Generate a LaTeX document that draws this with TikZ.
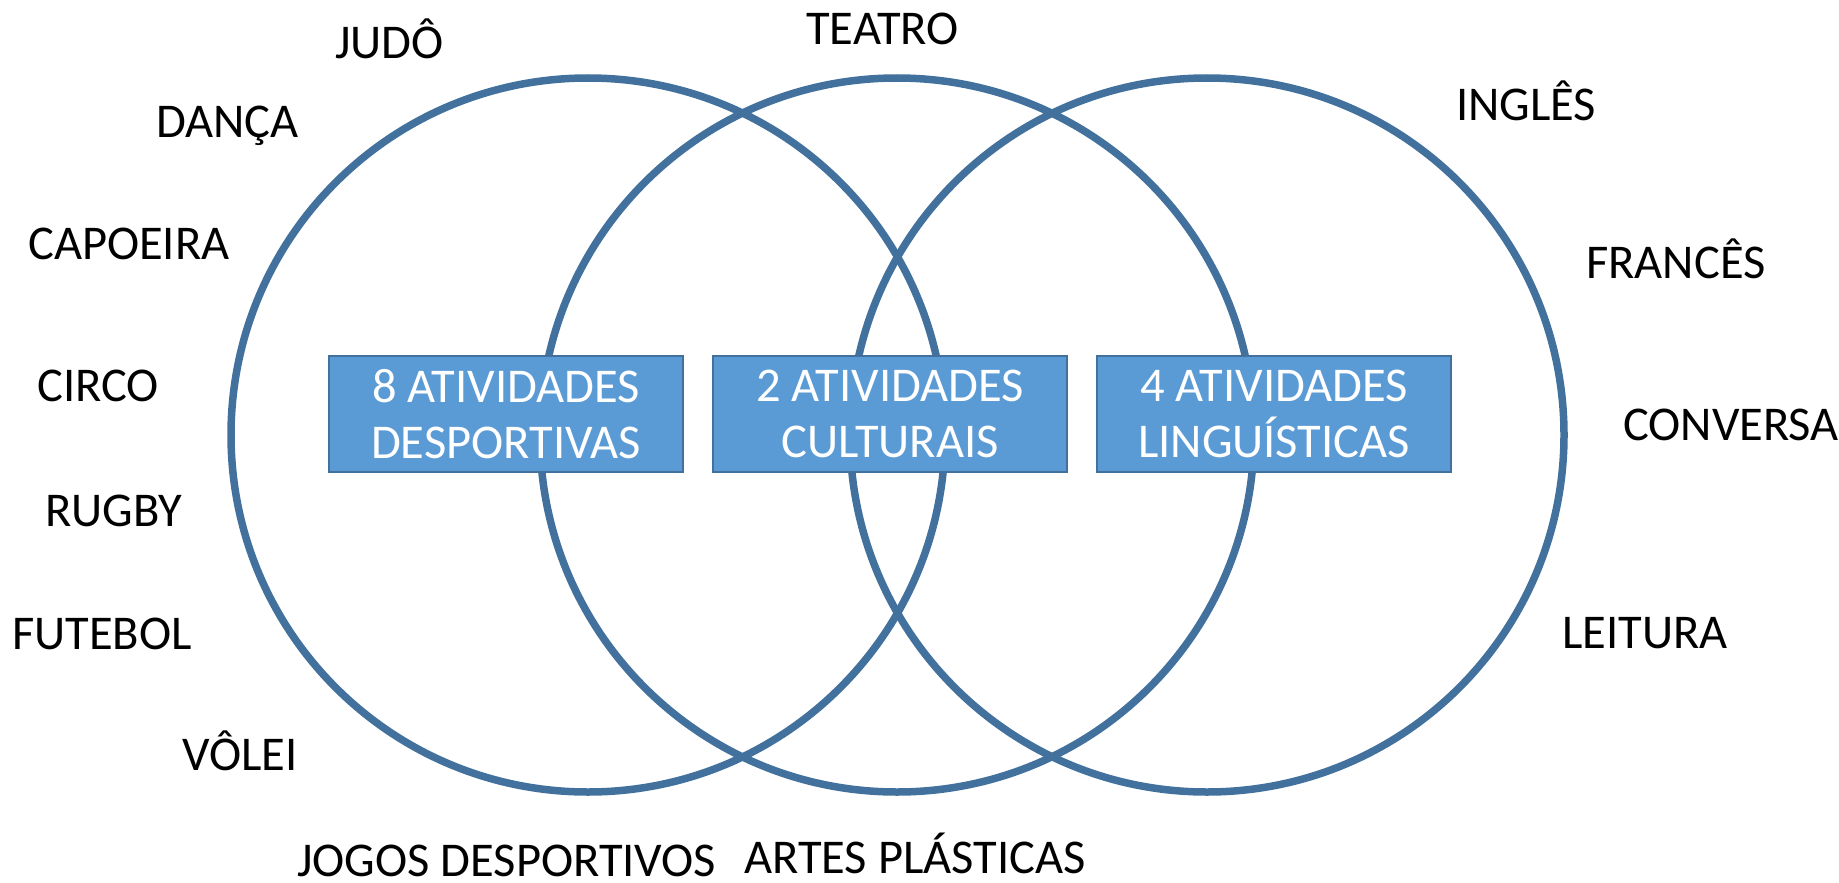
\documentclass[tikz,border=0pt]{standalone}
\usepackage{fontspec}
\setmainfont{Carlito}
\definecolor{ring}{HTML}{41719C}
\definecolor{boxfill}{HTML}{5B9BD5}
\begin{document}
\begin{tikzpicture}[x=1pt,y=-1pt,
  ringstyle/.style={draw=ring,line width=7.5pt},
  catbox/.style={draw=ring,line width=1.8pt,fill=boxfill,text=white,minimum width=354pt,minimum height=116pt,inner sep=0pt,align=center,font=\fontsize{48.5}{56}\selectfont},
  lab/.style={anchor=base west,inner sep=0pt,font=\fontsize{48.5}{56}\selectfont}]
\useasboundingbox (0,0) rectangle (1839,883);
\draw[ringstyle] (588,435) circle[radius=357];
\draw[ringstyle] (897,435) circle[radius=357];
\draw[ringstyle] (1207,435) circle[radius=357];
\node[catbox] (b1) at (506,414) {8 ATIVIDADES\\DESPORTIVAS};
\node[catbox] (b2) at (890,414) {2 ATIVIDADES\\CULTURAIS};
\node[catbox] (b3) at (1274,414) {4 ATIVIDADES\\LINGUÍSTICAS};
\node[lab] (judo) at (335,59) {JUDÔ};
\node[lab] (danca) at (156,137) {DANÇA};
\node[lab] (capoeira) at (28,259) {CAPOEIRA};
\node[lab] (circo) at (37,401) {CIRCO};
\node[lab] (rugby) at (45,526) {RUGBY};
\node[lab] (futebol) at (12,649) {FUTEBOL};
\node[lab] (volei) at (182,770) {VÔLEI};
\node[lab] (jogos) at (297,876) {JOGOS DESPORTIVOS};
\node[lab] (artes) at (744,873) {ARTES PLÁSTICAS};
\node[lab] (teatro) at (806,45) {TEATRO};
\node[lab] (ingles) at (1456,120) {INGLÊS};
\node[lab] (frances) at (1586,278) {FRANCÊS};
\node[lab] (conversa) at (1623,440) {CONVERSA};
\node[lab] (leitura) at (1562,648) {LEITURA};
\end{tikzpicture}
\end{document}
